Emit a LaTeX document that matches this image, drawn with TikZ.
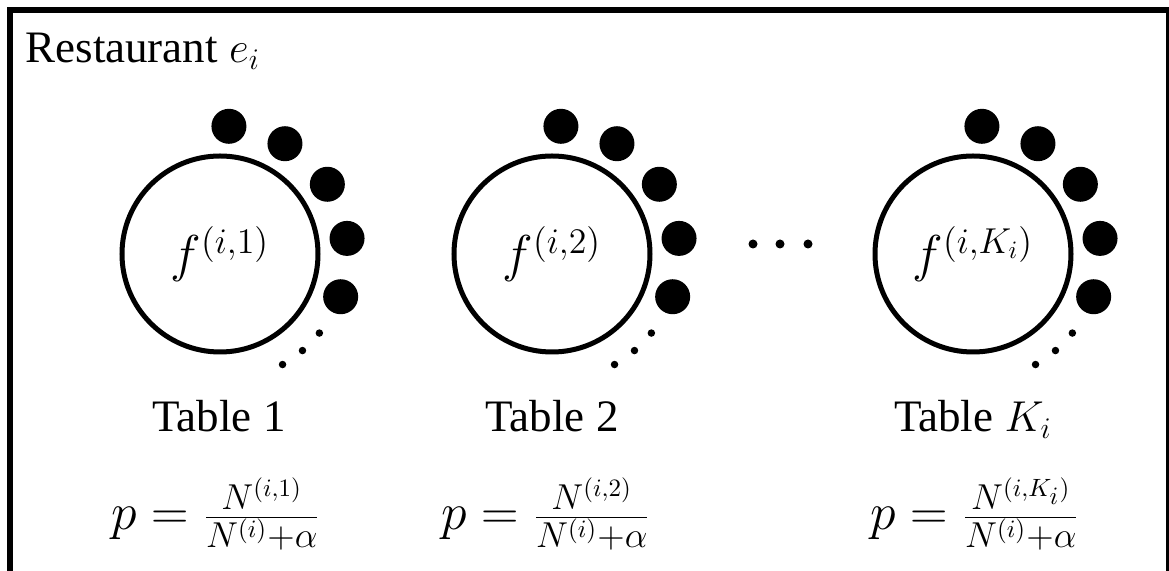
\documentclass[tikz,border=0pt]{standalone}
\usepackage[no-math]{fontspec}
\setmainfont{Liberation Serif}
\usetikzlibrary{positioning}

\begin{document}
\begin{tikzpicture}[
    x=0.4pt, y=-0.4pt,
    tablering/.style={circle, draw, line width=2pt, minimum size=78.4pt, inner sep=0pt, font=\fontsize{20}{24}\selectfont},
    guest/.style={circle, fill=black, minimum size=14pt, inner sep=0pt},
    crumb/.style={circle, fill=black, minimum size=3pt, inner sep=0pt},
    gapdot/.style={circle, fill=black, minimum size=3.6pt, inner sep=0pt},
    tablename/.style={anchor=base, font=\fontsize{18}{22}\selectfont},
    prob/.style={anchor=base, font=\fontsize{20}{24}\selectfont}
]
    \useasboundingbox (0,0) rectangle (1169,571);
    \clip (0,0) rectangle (1169,571);
    \draw[line width=2.4pt] (10,10) rectangle (1169,640);

    \node[anchor=base west, inner sep=0pt, font=\fontsize{18}{22}\selectfont] (title) at (25,63) {Restaurant $e_i$};

    \node[tablering] (t1) at (220,254) {$f^{(i,1)}$};
    \node[tablering] (t2) at (552,254) {$f^{(i,2)}$};
    \node[tablering] (t3) at (973,254) {$f^{(i,K_i)}$};

    \foreach \t in {t1,t2,t3} {
        \foreach \a [count=\k] in {-86,-59.5,-33,-7,19.5}
            \path (\t) ++(\a:128) node[guest] (\t-g\k) {};
        \foreach \a [count=\k] in {38.5,49.5,60.5}
            \path (\t) ++(\a:127) node[crumb] (\t-c\k) {};
    }

    \foreach \x [count=\k] in {753,780,808}
        \node[gapdot] (gap\k) at (\x,244) {};

    \node[tablename] (n1) at (219,432) {Table 1};
    \node[tablename] (n2) at (552,432) {Table 2};
    \node[tablename] (n3) at (973,432) {Table $K_i$};

    \node[prob] (p1) at (216,530) {$p=\frac{N^{(i,1)}}{N^{(i)}+\alpha}$};
    \node[prob] (p2) at (546,530) {$p=\frac{N^{(i,2)}}{N^{(i)}+\alpha}$};
    \node[prob] (p3) at (975,530) {$p=\frac{N^{(i,K_i)}}{N^{(i)}+\alpha}$};
\end{tikzpicture}
\end{document}
